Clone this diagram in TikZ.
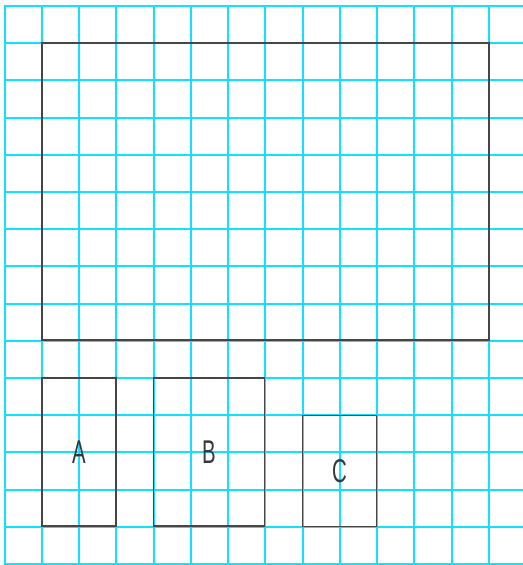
\documentclass[tikz,border=0pt]{standalone}
\usepackage{fontspec}
\setmainfont{Liberation Sans}
\definecolor{gridcyan}{RGB}{15,225,255}
\definecolor{boxgray}{RGB}{70,70,70}
\definecolor{labelgray}{RGB}{55,55,60}
\begin{document}
\begin{tikzpicture}[x=1bp,y=-1bp,
  gridline/.style={draw=gridcyan,line width=2bp},
  box/.style={draw=boxgray,line width=1.8bp,inner sep=0pt,outer sep=0pt,
    font=\fontsize{33}{33}\selectfont,text=labelgray}]
\useasboundingbox (0,0) rectangle (523,565);
\fill[white] (0,0) rectangle (523,565);
% grid
\foreach \i in {0,...,13} {
  \draw[gridline] ({4.5+37.25*\i},5.5) -- ({4.5+37.25*\i},566);
}
\foreach \j in {0,...,15} {
  \draw[gridline] (3.5,{6+37.2*\j}) -- (524,{6+37.2*\j});
}
% boxes
\node[box,minimum width=447bp,minimum height=297bp] (big) at (265.5,191.5) {};
\node[box,minimum width=74bp,minimum height=148bp] (A) at (79,452) {\scalebox{0.62}[1]{A}};
\node[box,minimum width=111bp,minimum height=148bp] (B) at (209,452) {\scalebox{0.62}[1]{B}};
\node[box,minimum width=74bp,minimum height=111bp] (C) at (339.5,471) {\scalebox{0.62}[1]{C}};
\end{tikzpicture}
\end{document}
